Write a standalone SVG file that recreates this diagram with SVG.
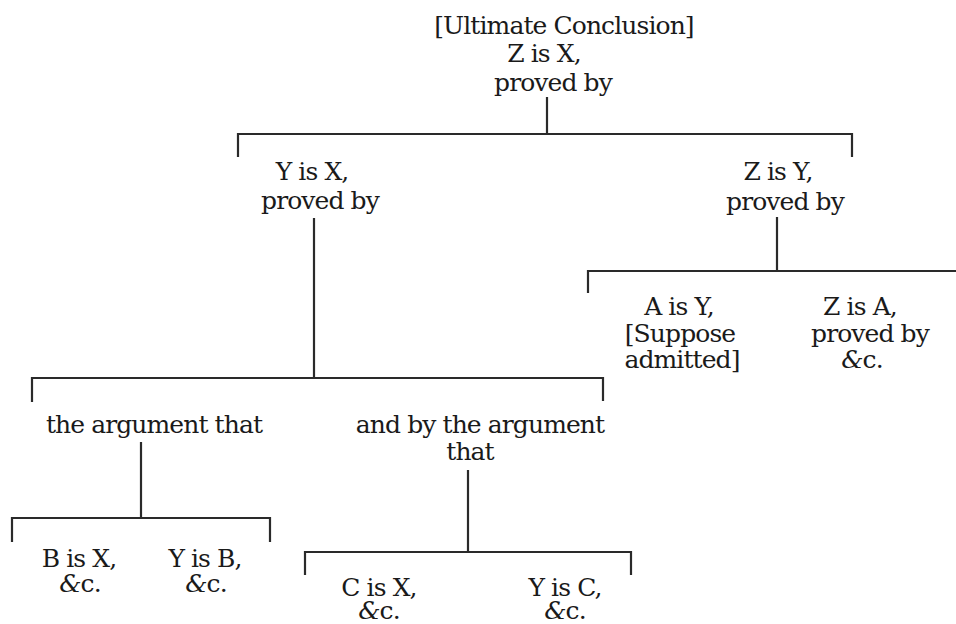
<svg xmlns="http://www.w3.org/2000/svg" width="956" height="624" viewBox="0 0 956 624">
<style>
text{font-family:'DejaVu Serif','Liberation Serif',serif;font-size:25px;letter-spacing:-0.9px;fill:#1a1a1a;text-anchor:middle}
.it{font-style:italic}
#connectors path{fill:none;stroke:#2a2a2a;stroke-width:2.2}
</style>
<rect width="956" height="624" fill="#ffffff"/>
<g id="connectors">
<path d="M547 97V134M238 157V134H852V157"/>
<path d="M314 218V378M32 402V378H603V401"/>
<path d="M777 217V271M588 293V271H956"/>
<path d="M141 442V518M12 542V518H270V542"/>
<path d="M468 470V552M305 575V552H631V575"/>
</g>
<g id="n0"><text x="564" y="34">[Ultimate Conclusion]</text><text x="544" y="62">Z is X,</text><text x="553" y="91">proved by</text></g>
<g id="n1"><text x="312" y="180">Y is X,</text><text x="320" y="209">proved by</text></g>
<g id="n2"><text x="778" y="180">Z is Y,</text><text x="785" y="210">proved by</text></g>
<g id="n3"><text x="679" y="315">A is Y,</text><text x="680" y="342">[Suppose</text><text x="682" y="368">admitted]</text></g>
<g id="n4"><text x="860" y="315">Z is A,</text><text x="870" y="342">proved by</text><text x="862" y="368"><tspan class="it">&amp;</tspan>c.</text></g>
<g id="n5"><text x="154" y="433">the argument that</text></g>
<g id="n6"><text x="480" y="433">and by the argument</text><text x="470" y="460">that</text></g>
<g id="n7"><text x="79" y="567">B is X,</text><text x="80" y="592"><tspan class="it">&amp;</tspan>c.</text></g>
<g id="n8"><text x="205" y="567">Y is B,</text><text x="206" y="592"><tspan class="it">&amp;</tspan>c.</text></g>
<g id="n9"><text x="379" y="596">C is X,</text><text x="379" y="619"><tspan class="it">&amp;</tspan>c.</text></g>
<g id="n10"><text x="565" y="596">Y is C,</text><text x="565" y="619"><tspan class="it">&amp;</tspan>c.</text></g>
</svg>
